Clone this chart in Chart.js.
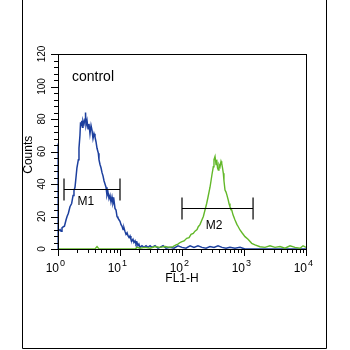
<!DOCTYPE html>
<html><head><meta charset="utf-8">
<script src="https://cdn.jsdelivr.net/npm/chart.js@4/dist/chart.umd.min.js"></script>
<style>html,body{margin:0;padding:0;background:#fff}#c{display:block}</style>
</head><body>
<canvas id="c" width="350" height="350"></canvas>
<script>
// ---- data ----
const blueX = [1, 1, 1.01, 1.04, 1.08, 1.12, 1.16, 1.22, 1.27, 1.35, 1.40, 1.47, 1.56, 1.66, 1.75, 1.81, 1.88, 1.95, 2.02, 2.13, 2.18, 2.26, 2.31, 2.35, 2.41, 2.48, 2.53, 2.63, 2.73, 2.78, 2.83, 2.94, 3.05, 3.16, 3.28, 3.41, 3.54, 3.67, 3.81, 3.95, 4.10, 4.26, 4.47, 4.58, 4.76, 4.94, 5.13, 5.32, 5.52, 5.73, 5.95, 6.17, 6.40, 6.65, 6.90, 7.16, 7.43, 7.71, 8.00, 8.30, 8.62, 8.95, 9.28, 9.63, 10.0, 10.4, 10.8, 11.2, 11.6, 12.0, 12.5, 13.0, 13.5, 14.0, 14.5, 15.0, 15.6, 16.2, 16.8, 17.5, 18.1, 18.8, 19.5, 20.2, 21.0, 22.6, 24.4, 26.3, 28.3, 30.5, 32.8, 36.7, 41.0, 44.2, 49.4, 55.2, 64.0, 74.3, 86.1, 100, 116, 135, 156, 181, 210, 244, 283, 328, 381, 442, 513, 594, 716, 862, 1038, 1250, 1811, 2625, 3808, 5520, 10000];
const blueY = [0, 65, 11, 11.5, 12, 11, 13, 13.7, 14, 18, 20, 22, 26, 28, 33, 36, 38, 44, 50, 55, 62, 70, 78, 76, 79, 75, 79, 77, 80, 84, 76, 79, 74, 77, 71, 76, 73, 68, 71, 69, 66, 62, 59, 55, 52, 50, 47, 45, 42, 40, 38, 33, 35, 31, 33, 29, 32, 28, 30, 25, 24, 20, 19, 18, 17, 15, 14, 12, 13, 11, 9, 10, 8, 7, 8, 6, 5, 6, 4, 5, 3, 4, 2, 3, 1, 2, 1, 2, 1, 2, 1, 2, 0.5, 1, 2, 0.5, 1, 0.5, 2, 1, 0.5, 2, 1, 2, 1, 0.5, 1.5, 1, 2, 1, 0.5, 1, 0.5, 1, 0, 0, 0, 0, 0, 0, 0];
const greenX = [1, 3.95, 4.26, 4.58, 17.5, 18.8, 21.0, 25.3, 30.5, 36.7, 44.2, 53.2, 64.0, 71.6, 80.0, 86.1, 92.9, 100, 108, 119, 130, 140, 152, 162, 175, 183, 195, 210, 221, 235, 250, 263, 283, 294, 305, 320, 328, 341, 354, 363, 374, 385, 395, 410, 426, 437, 450, 464, 475, 494, 513, 532, 558, 573, 594, 634, 665, 716, 771, 800, 862, 929, 1038, 1161, 1332, 1504, 1811, 2181, 2625, 3162, 3808, 4582, 5520, 6650, 8000, 8954, 10000];
const greenY = [0, 0, 1.5, 0, 0, 1, 0.5, 1, 0.5, 1.5, 1, 1.5, 1, 1.5, 2.5, 3, 4, 4.5, 5, 6.6, 7, 9, 9.6, 11, 12, 13.7, 15, 18, 20, 24, 28, 32, 38, 42, 46, 50.6, 55, 57, 52, 55, 50, 48.6, 52, 50.6, 54, 52.7, 50, 46.6, 42, 36.3, 35, 33, 30, 28, 26, 24, 21, 17.8, 15, 14, 11.7, 10, 7.6, 6, 3.5, 2.5, 1.4, 1, 2, 1, 1.5, 0.5, 2, 1, 0.5, 2, 1];
const yTicks = [0, 20, 40, 60, 80, 100, 120];
const xDecades = [1, 10, 100, 1000, 10000];
const xTickExp = ['0', '1', '2', '3', '4'];
const markerNames = ['M1', 'M2'];
const markerStart = [1.25, 100];
const markerEnd = [10, 1400];
const markerLevel = [37, 25];
const markerLabelX = [2.8, 330];
const markerLabelY = [29, 14.5];
const annotationText = 'control';
const xTitle = 'FL1-H';
const yTitle = 'Counts';

const toPts = (xs, ys) => xs.map((x, i) => ({x: x, y: ys[i]}));

const decor = {
  id: 'decor',
  afterDraw(chart) {
    const ctx = chart.ctx, xs = chart.scales.x, ys = chart.scales.y, a = chart.chartArea;
    ctx.save();
    ctx.strokeStyle = '#000'; ctx.fillStyle = '#000'; ctx.lineWidth = 1;
    // plot box
    ctx.strokeRect(Math.round(a.left) + 0.5, Math.round(a.top) + 0.5, Math.round(a.right - a.left), Math.round(a.bottom - a.top));
    // y ticks
    ctx.beginPath();
    for (let v = 0; v <= 120; v += 4) {
      const y = Math.round(ys.getPixelForValue(v)) + 0.5;
      const len = (v % 20 === 0) ? 7 : 4;
      ctx.moveTo(a.left - len, y); ctx.lineTo(a.left, y);
    }
    // x ticks
    for (let d = 0; d < xDecades.length; d++) {
      const base = xDecades[d];
      const px = Math.round(xs.getPixelForValue(base)) + 0.5;
      ctx.moveTo(px, a.bottom); ctx.lineTo(px, a.bottom + 7);
      if (base < 10000) {
        for (let m = 2; m <= 9; m++) {
          const p = Math.round(xs.getPixelForValue(base * m)) + 0.5;
          ctx.moveTo(p, a.bottom); ctx.lineTo(p, a.bottom + 4);
        }
      }
    }
    ctx.stroke();
    // y tick labels (rotated)
    ctx.font = '10px "Liberation Sans", Arial, sans-serif';
    ctx.textAlign = 'center'; ctx.textBaseline = 'middle';
    yTicks.forEach(v => {
      const y = ys.getPixelForValue(v);
      ctx.save(); ctx.translate(42, y); ctx.rotate(-Math.PI / 2);
      ctx.fillText(String(v), 0, 0); ctx.restore();
    });
    // x tick labels 10^n
    xDecades.forEach((v, i) => {
      const px = xs.getPixelForValue(v);
      ctx.font = '12px "Liberation Sans", Arial, sans-serif';
      ctx.textAlign = 'right'; ctx.textBaseline = 'alphabetic';
      ctx.fillText('10', px + 1, 272);
      ctx.font = '9px "Liberation Sans", Arial, sans-serif';
      ctx.textAlign = 'left';
      ctx.fillText(xTickExp[i], px + 2, 266);
    });
    // axis titles
    ctx.font = '12px "Liberation Sans", Arial, sans-serif';
    ctx.textAlign = 'center'; ctx.textBaseline = 'middle';
    ctx.fillText(xTitle, xs.getPixelForValue(100), 279);
    ctx.save(); ctx.translate(29, ys.getPixelForValue(58)); ctx.rotate(-Math.PI / 2);
    ctx.fillText(yTitle, 0, 0); ctx.restore();
    // annotation
    ctx.font = '14px "Liberation Sans", Arial, sans-serif';
    ctx.textAlign = 'left';
    ctx.fillText(annotationText, xs.getPixelForValue(1.68), ys.getPixelForValue(106));
    // markers
    ctx.lineWidth = 1.2;
    markerNames.forEach((n, i) => {
      const x1 = xs.getPixelForValue(markerStart[i]), x2 = xs.getPixelForValue(markerEnd[i]);
      const y = Math.round(ys.getPixelForValue(markerLevel[i])) + 0.5;
      ctx.beginPath();
      ctx.moveTo(x1, y); ctx.lineTo(x2, y);
      ctx.moveTo(x1, y - 11); ctx.lineTo(x1, y + 11);
      ctx.moveTo(x2, y - 11); ctx.lineTo(x2, y + 11);
      ctx.stroke();
      ctx.font = '12px "Liberation Sans", Arial, sans-serif';
      ctx.textAlign = 'center'; ctx.textBaseline = 'middle';
      ctx.fillText(n, xs.getPixelForValue(markerLabelX[i]), ys.getPixelForValue(markerLabelY[i]));
    });
    // outer frame
    ctx.lineWidth = 1;
    ctx.beginPath();
    ctx.moveTo(22.5, 0); ctx.lineTo(22.5, 348.5); ctx.lineTo(326.5, 348.5); ctx.lineTo(326.5, 0);
    ctx.stroke();
    ctx.restore();
  }
};

new Chart(document.getElementById('c'), {
  type: 'scatter',
  data: {
    datasets: [
      {label: 'green', data: toPts(greenX, greenY), showLine: true, pointRadius: 0, borderColor: '#62b829', borderWidth: 1.4, tension: 0, clip: 3},
      {label: 'control', data: toPts(blueX, blueY), showLine: true, pointRadius: 0, borderColor: '#1c3f9e', borderWidth: 1.5, tension: 0, clip: 3}
    ]
  },
  options: {
    responsive: false, animation: false, devicePixelRatio: 1,
    layout: {padding: {left: 58, top: 54, right: 44, bottom: 101}},
    plugins: {legend: {display: false}, tooltip: {enabled: false}},
    scales: {
      x: {type: 'logarithmic', min: 1, max: 10000, display: false},
      y: {type: 'linear', min: 0, max: 120, display: false}
    }
  },
  plugins: [decor]
});
</script>
</body></html>
